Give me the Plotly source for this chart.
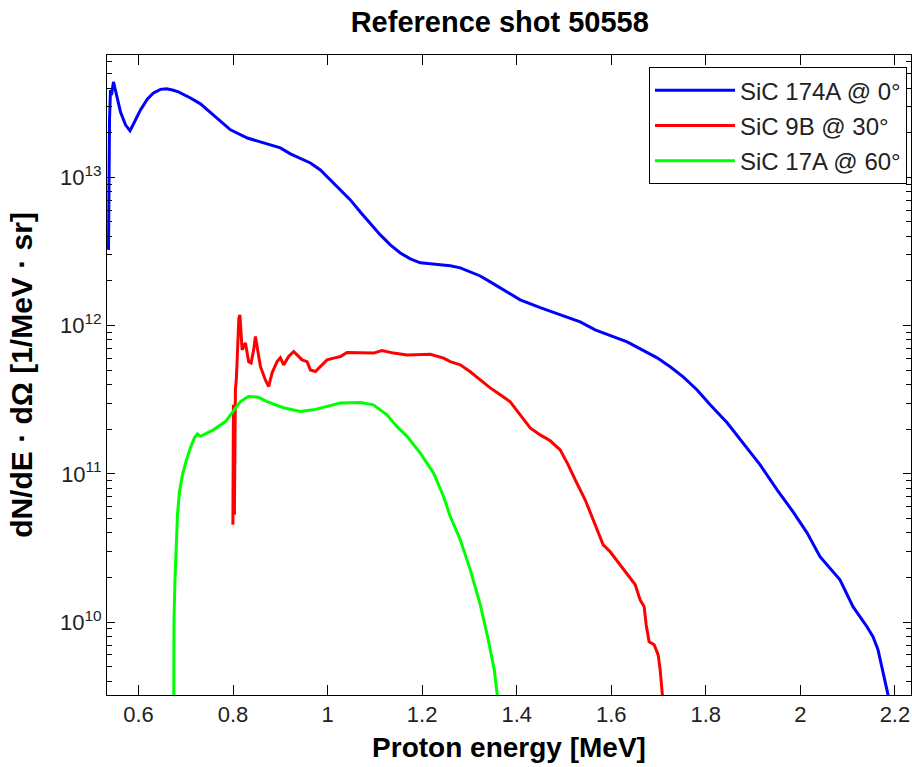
import plotly.graph_objects as go

# ---------------- data ----------------
e_blue = [0.5366, 0.5387, 0.5408, 0.5429, 0.5471, 0.5535, 0.5620, 0.5725, 0.5820, 0.5894,
          0.6042, 0.6190, 0.6317, 0.6465, 0.6592, 0.6719, 0.6845, 0.7099, 0.7311, 0.7458,
          0.7733, 0.7945, 0.8304, 0.8727, 0.9001, 0.9213, 0.9424, 0.9636, 0.9847, 1.0058,
          1.0270, 1.0481, 1.0692, 1.0904, 1.1115, 1.1327, 1.1538, 1.1749, 1.1961, 1.2172,
          1.2383, 1.2595, 1.2806, 1.3018, 1.3229, 1.3440, 1.3652, 1.3863, 1.4074, 1.4497,
          1.4920, 1.5343, 1.5660, 1.5977, 1.6336, 1.6654, 1.6971, 1.7246, 1.7521, 1.7817,
          1.8092, 1.8451, 1.8789, 1.9149, 1.9508, 1.9846, 2.0142, 2.0416, 2.0838, 2.1113,
          2.1409, 2.1536, 2.1642, 2.1748, 2.1853, 2.1917]
n_blue = [3.24e12, 2.44e13, 3.88e13, 3.59e13, 4.40e13, 3.59e13, 2.76e13, 2.26e13, 2.06e13, 2.29e13,
          2.85e13, 3.38e13, 3.71e13, 3.92e13, 3.95e13, 3.88e13, 3.77e13, 3.43e13, 3.13e13, 2.85e13,
          2.40e13, 2.09e13, 1.84e13, 1.68e13, 1.58e13, 1.44e13, 1.35e13, 1.25e13, 1.12e13, 9.60e12,
          8.22e12, 7.04e12, 5.84e12, 4.85e12, 4.09e12, 3.50e12, 3.09e12, 2.82e12, 2.65e12, 2.61e12,
          2.57e12, 2.53e12, 2.45e12, 2.30e12, 2.16e12, 1.97e12, 1.80e12, 1.64e12, 1.49e12, 1.32e12,
          1.18e12, 1.06e12, 9.35e11, 8.53e11, 7.76e11, 6.86e11, 6.06e11, 5.27e11, 4.51e11, 3.68e11,
          2.92e11, 2.21e11, 1.62e11, 1.15e11, 7.80e10, 5.54e10, 4.00e10, 2.76e10, 1.93e10, 1.27e10,
          9.30e9, 7.96e9, 6.51e9, 4.55e9, 3.24e9, 2.37e9]

e_red = [0.7997, 0.8008, 0.8029, 0.8050, 0.8071, 0.8099, 0.8124, 0.8145, 0.8167, 0.8192,
         0.8262, 0.8331, 0.8382, 0.8437, 0.8473, 0.8509, 0.8579, 0.8684, 0.8754, 0.8826,
         0.8932, 0.9001, 0.9071, 0.9177, 0.9283, 0.9354, 0.9460, 0.9566, 0.9636, 0.9741,
         0.9847, 0.9989, 1.0128, 1.0270, 1.0411, 1.0692, 1.0974, 1.1151, 1.1396, 1.1680,
         1.2172, 1.2453, 1.2595, 1.2806, 1.3018, 1.3229, 1.3440, 1.3652, 1.3863, 1.4074,
         1.4286, 1.4497, 1.4709, 1.4920, 1.5089, 1.5237, 1.5448, 1.5660, 1.5829, 1.5977,
         1.6188, 1.6357, 1.6505, 1.6611, 1.6696, 1.6738, 1.6801, 1.6907, 1.6992, 1.7034,
         1.7076, 1.7118]
n_red = [4.53e10, 2.92e11, 5.30e10, 3.68e11, 4.44e11, 8.01e11, 1.13e12, 1.18e12, 9.06e11, 6.86e11,
         7.64e11, 5.71e11, 5.60e11, 6.86e11, 8.44e11, 7.21e11, 5.30e11, 4.30e11, 3.88e11, 4.80e11,
         5.71e11, 6.06e11, 5.43e11, 6.18e11, 6.68e11, 6.34e11, 5.87e11, 5.71e11, 5.02e11, 4.90e11,
         5.27e11, 5.87e11, 6.03e11, 6.18e11, 6.58e11, 6.58e11, 6.52e11, 6.78e11, 6.52e11, 6.34e11,
         6.41e11, 6.03e11, 5.71e11, 5.43e11, 4.88e11, 4.30e11, 3.80e11, 3.41e11, 3.06e11, 2.50e11,
         2.04e11, 1.83e11, 1.67e11, 1.45e11, 1.15e11, 9.12e10, 6.68e10, 4.53e10, 3.32e10, 2.98e10,
         2.43e10, 2.08e10, 1.79e10, 1.41e10, 1.27e10, 9.59e9, 7.36e9, 7.03e9, 6.01e9, 4.77e9,
         3.24e9, 2.37e9]

e_green = [0.6747, 0.6751, 0.6772, 0.6793, 0.6825, 0.6867, 0.6930, 0.7015, 0.7099, 0.7184,
           0.7247, 0.7311, 0.7585, 0.7839, 0.8008, 0.8156, 0.8325, 0.8536, 0.8720, 0.9065,
           0.9424, 0.9699, 0.9989, 1.0270, 1.0692, 1.0967, 1.1257, 1.1468, 1.1680, 1.1961,
           1.2242, 1.2453, 1.2595, 1.2806, 1.3018, 1.3229, 1.3398, 1.3525, 1.3588, 1.3631]
n_green = [2.56e9, 1.04e10, 1.93e10, 3.32e10, 5.30e10, 7.57e10, 9.85e10, 1.24e11, 1.50e11, 1.75e11,
           1.86e11, 1.79e11, 1.98e11, 2.25e11, 2.63e11, 3.07e11, 3.32e11, 3.29e11, 3.07e11, 2.79e11,
           2.63e11, 2.70e11, 2.85e11, 3.00e11, 3.03e11, 2.92e11, 2.50e11, 2.08e11, 1.79e11, 1.38e11,
           1.01e11, 7.03e10, 5.15e10, 3.59e10, 2.25e10, 1.31e10, 7.60e9, 4.77e9, 3.24e9, 2.37e9]

series_names = ["SiC 174A @ 0°", "SiC 9B @ 30°", "SiC 17A @ 60°"]
series_colors = ["#0000FF", "#FF0000", "#00FF00"]

x_tick_vals = [0.6, 0.8, 1.0, 1.2, 1.4, 1.6, 1.8, 2.0, 2.2]
x_tick_text = ["0.6", "0.8", "1", "1.2", "1.4", "1.6", "1.8", "2", "2.2"]
y_tick_vals = [1e10, 1e11, 1e12, 1e13]
y_tick_text = ["10<sup>10</sup>", "10<sup>11</sup>", "10<sup>12</sup>", "10<sup>13</sup>"]

x_range = [0.5334, 2.234]
y_range_log = [9.508, 13.825]

# ---------------- figure ----------------
FONT = "Liberation Sans, Arial, sans-serif"
fig = go.Figure()
for i, (ex, ny) in enumerate([(e_blue, n_blue), (e_red, n_red), (e_green, n_green)]):
    fig.add_trace(go.Scatter(
        x=ex, y=ny, mode="lines", name=series_names[i],
        legendgroup="g%d" % i,
        line=dict(color=series_colors[i], width=3),
    ))

axis_common = dict(
    showline=True, linecolor="black", linewidth=1, mirror="ticks",
    showgrid=False, zeroline=False, ticks="inside", tickcolor="black",
    tickfont=dict(family=FONT, size=22, color="#222222"),
)

fig.update_layout(
    width=912, height=767, autosize=False,
    margin=dict(l=107, r=1, t=55, b=72),
    paper_bgcolor="white", plot_bgcolor="white",
    title=dict(text="<b>Reference shot 50558</b>", x=0.548, xanchor="center",
               y=0.971, yanchor="middle",
               font=dict(family=FONT, size=29, color="black")),
    xaxis=dict(range=x_range, tickvals=x_tick_vals, ticktext=x_tick_text,
               ticklen=10, tickwidth=1,
               title=dict(text="<b>Proton energy [MeV]</b>", standoff=10,
                          font=dict(family=FONT, size=28, color="black")),
               **axis_common),
    yaxis=dict(type="log", range=y_range_log, tickvals=y_tick_vals, ticktext=y_tick_text,
               ticklen=8, tickwidth=1,
               minor=dict(ticks="inside", ticklen=5, tickcolor="black", dtick="D1", showgrid=False),
               title=dict(text="<b>dN/dE · dΩ [1/MeV · sr]</b>", standoff=18,
                          font=dict(family=FONT, size=30, color="black")),
               **axis_common),
    legend=dict(x=0.995, y=0.981, xanchor="right", yanchor="top",
                bgcolor="white", bordercolor="black", borderwidth=1,
                font=dict(family=FONT, size=24, color="#222222"),
                tracegroupgap=1, itemwidth=80),
    showlegend=True,
)

fig.write_html("out.html")
